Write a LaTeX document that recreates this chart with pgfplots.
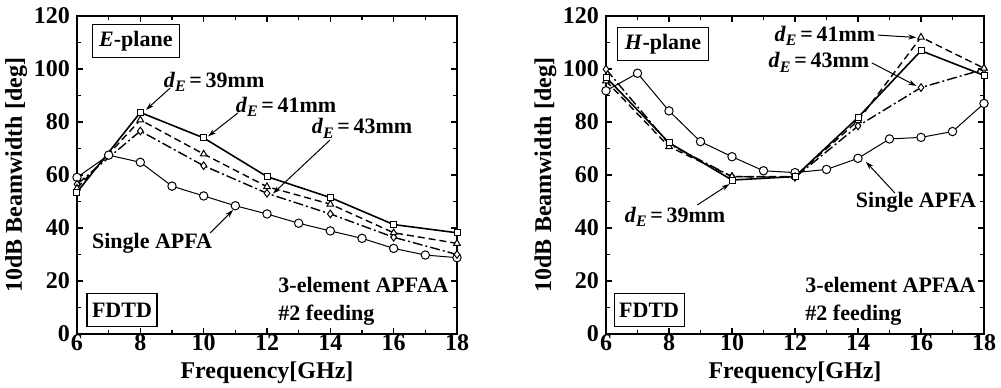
\documentclass[border=0pt]{standalone}
\usepackage{fontspec}
\setmainfont{Liberation Serif}
\usepackage{pgfplots}
\pgfplotsset{compat=1.18}
\usetikzlibrary{arrows.meta}

\pgfplotsset{
 myaxis/.style={
  scale only axis, width=190pt, height=159pt,
  xmin=6,xmax=18,ymin=0,ymax=120,
  xtick={6,8,...,18}, ytick={0,20,...,120},
  minor x tick num=1, minor y tick num=1,
  tick align=inside,
  major tick length=3pt, minor tick length=2pt,
  axis line style={line width=0.9pt},
  every tick/.style={black, line width=0.6pt},
  tick label style={font=\fontsize{12}{14}\selectfont\bfseries},
  xticklabel style={yshift=1pt, inner sep=1pt},
  /pgf/number format/assume math mode=true,
  label style={font=\fontsize{12}{14}\selectfont\bfseries, inner sep=0pt},
  xlabel={Frequency[GHz]}, ylabel={10dB Beamwidth [deg]},
  xlabel style={at={(axis description cs:0.5,-0.122)}, anchor=center},
  ylabel style={at={(axis description cs:-0.16,0.5)}, anchor=center},
  anchor=south west,
  clip=false,
 },
 s39/.style={black, line width=0.8pt, mark=square*, mark options={fill=white, solid, line width=0.5pt}, mark size=1.5pt},
 s41/.style={black, line width=0.7pt, dash pattern=on 3.5pt off 2pt, mark=triangle*, mark options={fill=white, solid, line width=0.5pt}, mark size=1.9pt},
 s43/.style={black, line width=0.7pt, dash pattern=on 5pt off 1.5pt on 1pt off 1.5pt, mark=diamond*, mark options={fill=white, solid, line width=0.5pt}, mark size=1.9pt},
 ssingle/.style={black, line width=0.5pt, mark=*, mark options={fill=white, solid, line width=0.5pt}, mark size=2.1pt},
}
\tikzset{
 ann/.style={font=\fontsize{11}{13}\selectfont\bfseries, inner sep=0pt},
 boxed/.style={draw, line width=0.6pt, font=\fontsize{11}{13}\selectfont\bfseries, inner xsep=3.5pt, minimum height=14pt},
 arr/.style={line width=0.5pt, -{Stealth[length=4pt,width=2.5pt]}},
}
\newcommand{\dE}[1]{\textit{d}\raisebox{-0.45ex}{\fontsize{8}{9}\selectfont\textit{E}}\,=\,#1mm}

\begin{document}
\begin{tikzpicture}
\useasboundingbox (0,0) rectangle (500.5pt,193.5pt);
% ---------- E-plane ----------
\begin{axis}[myaxis, at={(38.5pt,26.5pt)}]
\addplot[ssingle] coordinates {(6,59.1)(7,67.5)(8,64.8)(9,55.8)(10,52.1)(11,48.4)(12,45.3)(13,41.8)(14,38.9)(15,36.1)(16,32.3)(17,29.8)(18,28.8)};
\addplot[s43] coordinates {(6,56.5)(8,76.6)(10,63.5)(12,53.1)(14,45.3)(16,36.5)(18,30.0)};
\addplot[s41] coordinates {(6,55.0)(8,80.8)(10,67.9)(12,55.6)(14,49.0)(16,38.2)(18,34.2)};
\addplot[s39] coordinates {(6,53.5)(8,83.6)(10,74.0)(12,59.4)(14,51.5)(16,41.3)(18,38.2)};
\node[boxed] at (axis cs:7.86,110.6) {\textit{E}-plane};
\node[boxed, minimum height=16.5pt, inner xsep=2.5pt] at (axis cs:7.42,9.1) {FDTD};
\node[ann, anchor=west, align=left] at (axis cs:12.35,12.3) {3-element APFAA\\[1pt]\#2 feeding};
\node[ann] at (axis cs:10.33,95.1) {\dE{39}};
\draw[arr] (axis cs:8.94,92.8) -- (axis cs:8.18,84.6);
\node[ann] at (axis cs:12.6,85.7) {\dE{41}};
\draw[arr] (axis cs:11.08,83.4) -- (axis cs:10.14,74.6);
\node[ann] at (axis cs:15.0,77.7) {\dE{43}};
\draw[arr] (axis cs:13.99,73.2) -- (axis cs:12.19,53.0);
\node[ann] at (axis cs:8.37,34.3) {Single APFA};
\draw[arr] (axis cs:10.2,38.1) -- (axis cs:10.93,46.8);
\end{axis}
% ---------- H-plane ----------
\begin{axis}[myaxis, at={(303pt,26.5pt)}, width=189pt]
\addplot[ssingle] coordinates {(6,91.8)(7,98.4)(8,84.2)(9,72.6)(10,66.9)(11,61.6)(12,60.9)(13,62.1)(14,66.3)(15,73.6)(16,74.2)(17,76.4)(18,87.0)};
\addplot[s43] coordinates {(6,99.9)(8,71.7)(10,59.4)(12,59.1)(14,78.5)(16,93.0)(18,99.9)};
\addplot[s41] coordinates {(6,95.5)(8,70.7)(10,59.4)(12,59.4)(14,80.5)(16,112.0)(18,100.3)};
\addplot[s39] coordinates {(6,96.9)(8,72.2)(10,58.1)(12,59.4)(14,81.7)(16,106.9)(18,97.6)};
\node[boxed] at (axis cs:7.81,109.4) {\textit{H}-plane};
\node[boxed, minimum height=16.5pt, inner xsep=2.5pt] at (axis cs:7.37,9.1) {FDTD};
\node[ann, anchor=west, align=left] at (axis cs:12.32,12.3) {3-element APFAA\\[1pt]\#2 feeding};
\node[ann] at (axis cs:12.95,112.5) {\dE{41}};
\draw[arr] (axis cs:14.63,112.8) -- (axis cs:15.85,111.9);
\node[ann] at (axis cs:12.76,102.6) {\dE{43}};
\draw[arr] (axis cs:14.44,102.3) -- (axis cs:15.85,93.6);
\node[ann] at (axis cs:15.84,49.8) {Single APFA};
\draw[arr] (axis cs:15.17,53.2) -- (axis cs:14.25,65.0);
\node[ann] at (axis cs:8.19,44.2) {\dE{39}};
\draw[arr] (axis cs:8.9,48.7) -- (axis cs:9.92,56.6);
\end{axis}
\end{tikzpicture}
\end{document}
